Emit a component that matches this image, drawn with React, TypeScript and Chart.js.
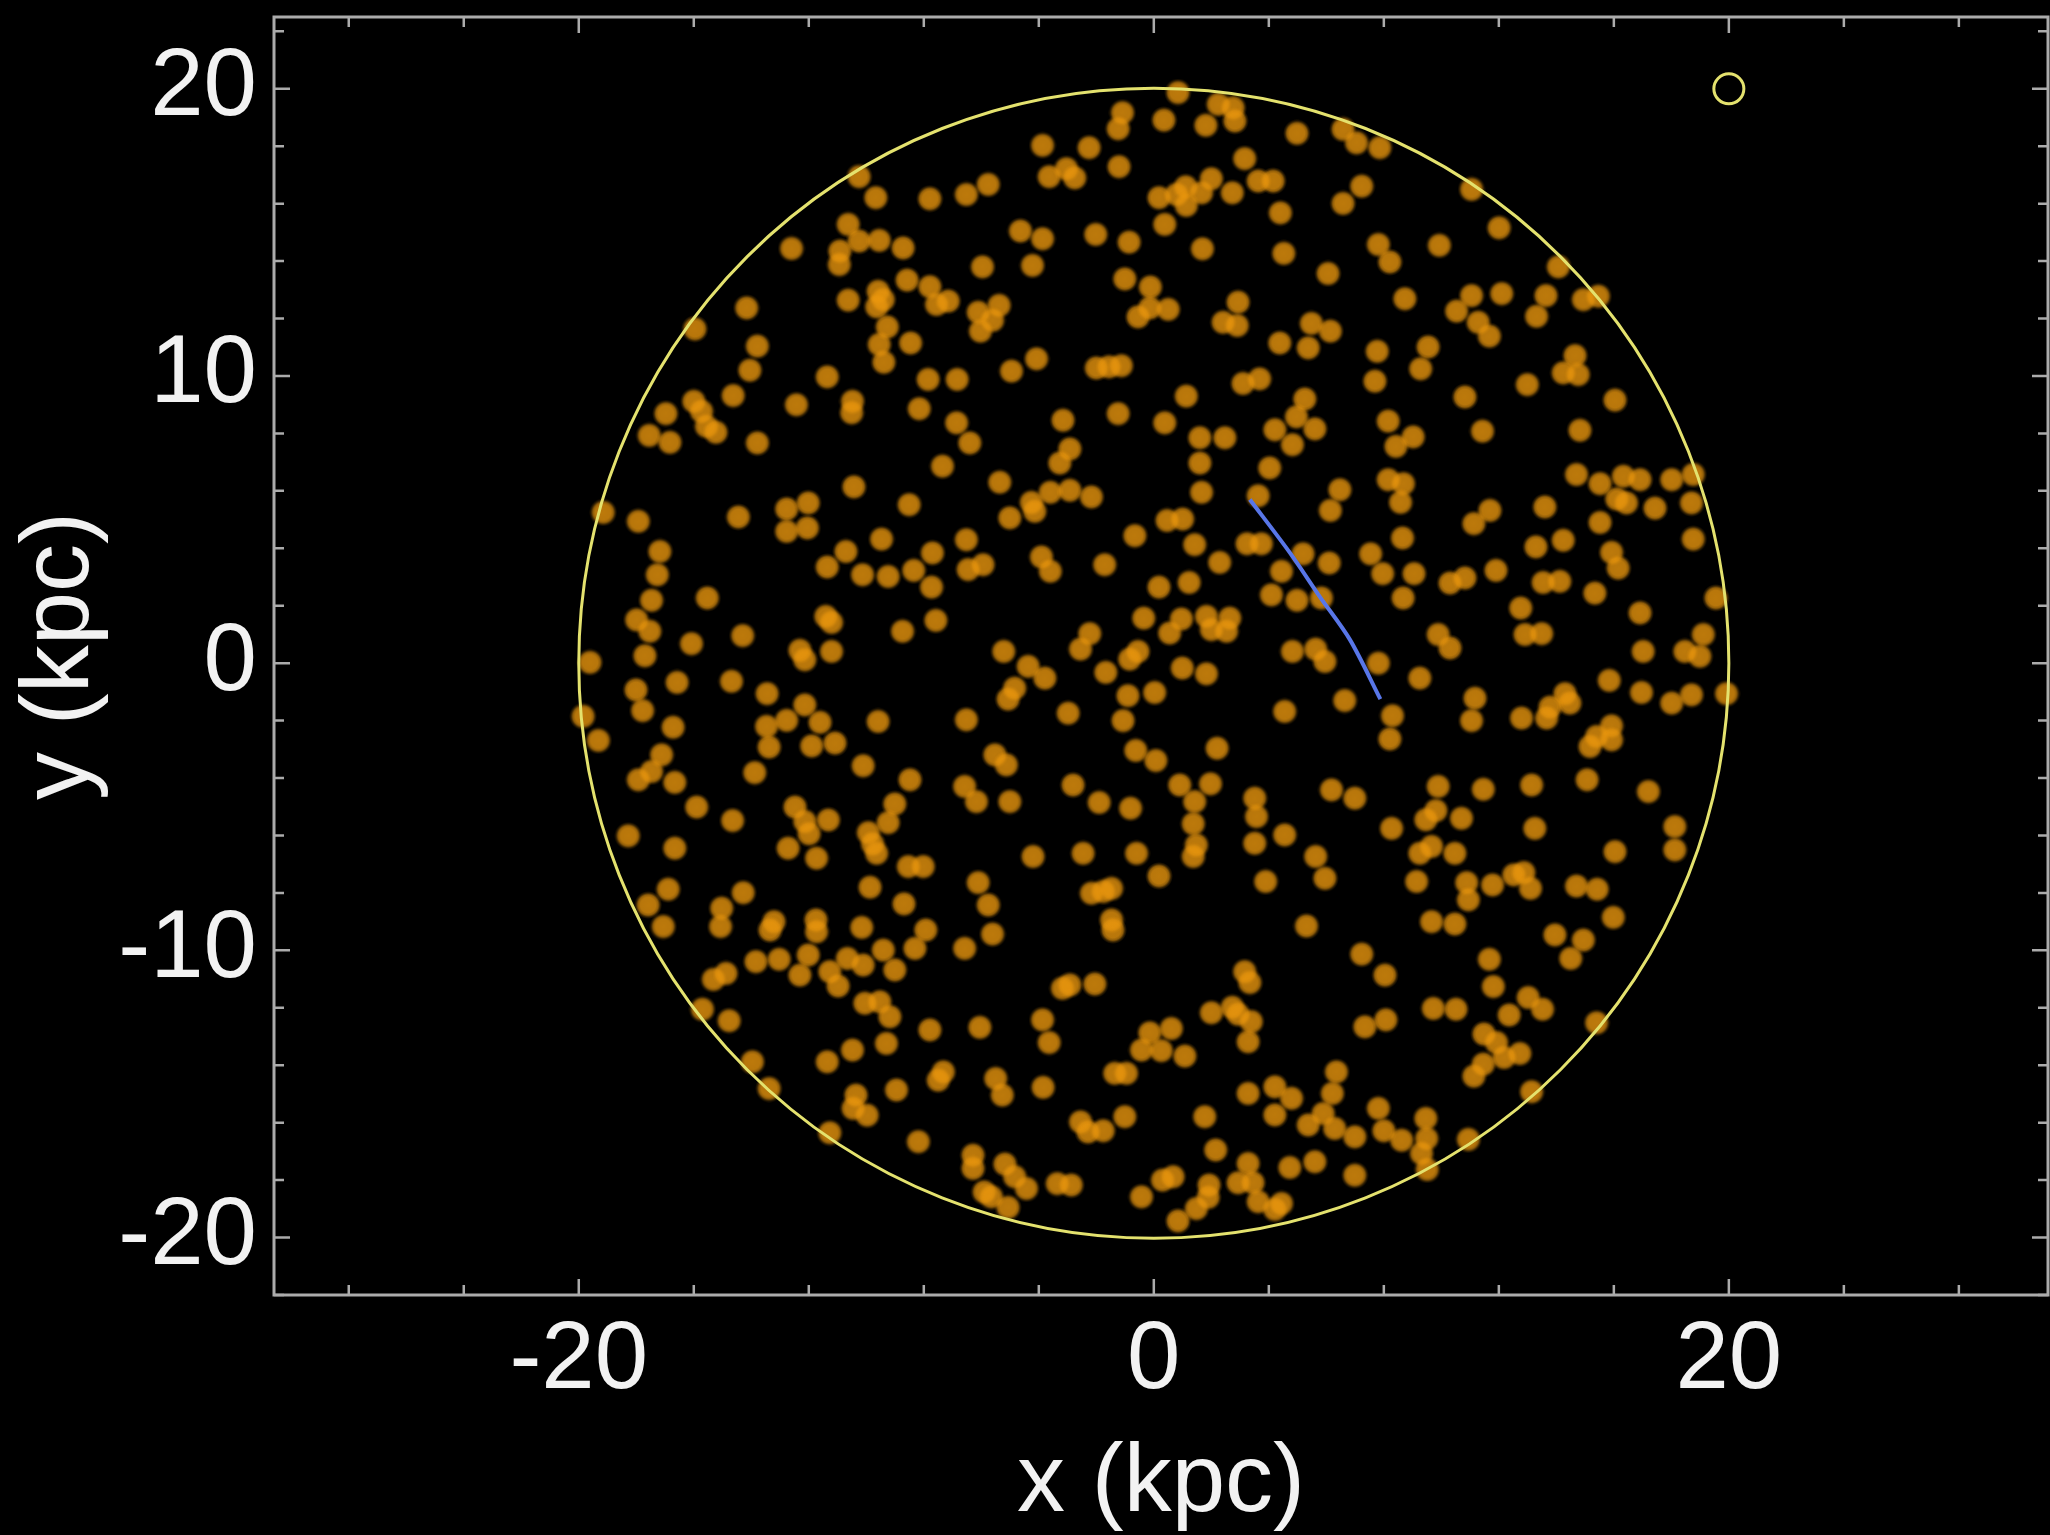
import React, { useEffect, useRef } from 'react';
import { Chart, registerables } from 'chart.js';

Chart.register(...registerables);

// ---- axis ranges & ticks (kpc) ----
const X_MIN = -30.6;
const X_MAX = 31.1;
const Y_MIN = -22.0;
const Y_MAX = 22.5;
const xMajorTicks = [-20, 0, 20];
const xMinorTicks = [-28, -24, -16, -12, -8, -4, 4, 8, 12, 16, 24, 28];
const yMajorTicks = [-20, -10, 0, 10, 20];
const yMinorTicks = [-22, -18, -16, -14, -12, -8, -6, -4, -2, 2, 4, 6, 8, 12, 14, 16, 18, 22];
const X_TITLE = 'x (kpc)';
const Y_TITLE = 'y (kpc)';

// ---- galactic disk outline & marker ----
const DISK_CENTER = { x: 0, y: 0 };
const DISK_RADIUS = 20;
const markerPoint = [{ x: 20, y: 20 }];

// ---- blue track ----
const trackX = [3.34, 4.73, 5.77, 6.82, 7.88];
const trackY = [5.7, 3.85, 2.32, 0.82, -1.25];

// ---- stars (x, y in kpc), read by region ----
const starsNW: [number, number][] = [
  [-10.25, 16.94], [-9.67, 16.21], [-7.79, 16.17], [-10.63, 15.28], [-10.25, 14.7], [-9.55, 14.72], [-8.72, 14.46],
  [-12.6, 14.44], [-10.92, 14.35], [-10.94, 13.88], [-8.58, 13.34], [-7.79, 13.11], [-7.56, 12.49], [-7.15, 12.61],
  [-9.59, 12.95], [-9.41, 12.66], [-9.64, 12.41], [-10.63, 12.64], [-14.16, 12.37], [-9.27, 11.71], [-15.96, 11.64],
  [-9.55, 11.1], [-8.46, 11.15], [-9.39, 10.48], [-13.79, 11.04], [-14.05, 10.2], [-11.36, 9.97], [-7.85, 9.88],
  [-6.84, 9.88], [-14.63, 9.32], [-12.43, 9.0], [-10.48, 9.12], [-10.51, 8.72], [-8.16, 8.86], [-16.0, 9.12],
  [-15.73, 8.77], [-16.97, 8.69], [-15.56, 8.25], [-15.23, 8.04], [-17.55, 7.93], [-16.83, 7.69], [-13.79, 7.67],
  [-6.86, 8.37], [-7.35, 6.86],
];

const starsN: [number, number][] = [
  [0.84, 19.87], [-1.09, 19.17], [-1.24, 18.61], [0.35, 18.91], [1.81, 18.73], [2.24, 19.46], [2.76, 19.34],
  [2.82, 18.88], [4.98, 18.45], [6.58, 18.59], [-3.87, 18.03], [-2.25, 17.95], [-1.21, 17.29], [-3.64, 16.94],
  [-3.04, 17.22], [-2.75, 16.9], [-6.52, 16.32], [-5.76, 16.67], [3.16, 17.57], [0.18, 16.21], [0.79, 16.32],
  [1.11, 16.59], [1.13, 15.94], [1.66, 16.38], [2.0, 16.87], [2.73, 16.38], [3.63, 16.79], [4.15, 16.79],
  [6.58, 16.01], [4.4, 15.68], [0.38, 15.28], [-4.64, 15.05], [-3.87, 14.78], [-2.02, 14.93], [-0.86, 14.66],
  [1.69, 14.43], [4.52, 14.27], [-5.96, 13.8], [-4.22, 13.85], [6.06, 13.57], [-1.01, 13.38], [-0.12, 13.1],
  [2.93, 12.57], [-5.38, 12.46], [-6.11, 12.22], [-5.61, 11.94], [-6.03, 11.56], [-0.55, 12.06], [-0.14, 12.37],
  [0.5, 12.32], [2.41, 11.87], [2.9, 11.76], [5.48, 11.83], [6.14, 11.56], [4.38, 11.15], [5.37, 10.98],
  [-2.0, 10.28], [-1.56, 10.32], [-1.13, 10.36], [-4.08, 10.6], [-4.95, 10.17], [3.1, 9.74], [3.68, 9.9],
  [1.13, 9.3], [5.25, 9.2], [4.96, 8.58], [5.6, 8.16], [4.21, 8.13], [4.82, 7.61], [-3.16, 8.46], [-1.24, 8.69],
  [0.38, 8.37], [1.6, 7.85], [2.47, 7.85], [-2.92, 7.46], [-3.27, 6.97], [-6.4, 7.67], [1.6, 6.97], [4.03, 6.8],
];

const starsNE: [number, number][] = [
  [7.05, 18.12], [7.86, 17.95], [7.23, 16.61], [11.05, 16.5], [12.01, 15.16], [7.81, 14.58], [8.21, 13.97],
  [9.93, 14.55], [14.07, 13.8], [8.73, 12.69], [11.05, 12.8], [10.53, 12.26], [11.28, 11.87], [11.67, 11.39],
  [12.1, 12.87], [13.64, 12.8], [13.31, 12.08], [14.94, 12.66], [15.46, 12.78], [7.77, 10.86], [9.54, 11.01],
  [9.28, 10.25], [7.69, 9.82], [14.65, 10.71], [14.24, 10.11], [14.76, 10.05], [12.99, 9.7], [10.82, 9.27],
  [16.04, 9.16], [8.15, 8.43], [9.02, 7.88], [8.42, 7.55], [11.43, 8.08], [14.82, 8.11],
];

const starsW: [number, number][] = [
  [-19.15, 5.25], [-17.93, 4.94], [-14.45, 5.09], [-12.77, 5.37], [-12.02, 5.58], [-12.77, 4.59], [-12.05, 4.71],
  [-10.43, 6.14], [-8.51, 5.52], [-9.47, 4.32], [-10.71, 3.89], [-11.36, 3.35], [-10.13, 3.08], [-9.24, 3.02],
  [-8.35, 3.23], [-7.7, 3.84], [-7.73, 2.65], [-17.18, 3.89], [-17.27, 3.08], [-17.47, 2.19], [-15.53, 2.27],
  [-17.99, 1.51], [-17.53, 1.11], [-17.7, 0.26], [-16.08, 0.68], [-14.3, 0.96], [-19.61, 0.03], [-11.41, 1.63],
  [-11.21, 1.42], [-12.31, 0.45], [-12.14, 0.12], [-11.21, 0.41], [-8.74, 1.11], [-7.58, 1.49], [-18.01, -0.93],
  [-16.58, -0.67], [-14.69, -0.63], [-13.45, -1.06], [-17.78, -1.65], [-19.85, -1.85], [-19.32, -2.69],
  [-16.72, -2.23], [-12.14, -1.45], [-12.77, -1.99], [-11.61, -2.06], [-13.47, -2.2], [-13.38, -2.92],
  [-11.9, -2.88], [-11.09, -2.78], [-9.59, -2.03], [-17.12, -3.19], [-17.47, -3.77], [-17.93, -4.06],
  [-16.66, -4.15], [-13.88, -3.81], [-10.11, -3.57], [-8.48, -4.06], [-15.9, -5.01], [-14.65, -5.48],
  [-12.48, -5.01], [-12.14, -5.51], [-11.99, -5.94], [-11.32, -5.46], [-9.01, -4.9], [-9.24, -5.55],
  [-9.93, -5.9], [-9.78, -6.29], [-9.64, -6.62], [-18.28, -6.01], [-16.66, -6.44], [-12.72, -6.44], [-11.73, -6.79],
];

const starsC: [number, number][] = [
  [-5.36, 6.3], [3.63, 5.83], [6.47, 6.04], [6.14, 5.32], [-4.26, 5.6], [-3.6, 5.95], [-2.92, 6.02], [-2.17, 5.79],
  [-4.14, 5.29], [-5.01, 5.06], [1.66, 5.95], [0.46, 4.97], [1.0, 5.02], [-0.66, 4.44], [1.42, 4.13], [-6.52, 4.3],
  [-6.46, 3.26], [-5.94, 3.43], [-3.91, 3.7], [-3.6, 3.2], [-1.71, 3.43], [0.18, 2.65], [1.23, 2.81], [2.29, 3.51],
  [3.24, 4.16], [3.74, 4.16], [5.19, 3.81], [6.1, 3.49], [4.44, 3.2], [4.09, 2.38], [4.98, 2.19], [5.83, 2.27],
  [-0.35, 1.57], [0.96, 1.54], [0.55, 1.05], [1.83, 1.63], [2.0, 1.17], [2.64, 1.57], [2.53, 1.11], [-2.23, 1.03],
  [-2.55, 0.49], [-0.55, 0.41], [-0.84, 0.14], [4.82, 0.41], [5.63, 0.49], [5.95, 0.06], [-5.22, 0.41],
  [-4.37, -0.11], [-3.79, -0.52], [-1.67, -0.32], [0.99, -0.17], [1.83, -0.37], [-5.07, -1.25], [-4.84, -0.87],
  [-0.9, -1.13], [0.03, -1.02], [-1.07, -2.0], [-2.98, -1.74], [-6.52, -1.97], [4.55, -1.68], [6.64, -1.3],
  [-5.53, -3.19], [-5.13, -3.54], [-0.63, -3.04], [0.07, -3.39], [2.2, -2.96], [-6.58, -4.29], [-6.17, -4.82],
  [-5.01, -4.82], [-2.81, -4.24], [-1.9, -4.85], [-0.81, -5.05], [0.9, -4.24], [1.97, -4.2], [1.42, -4.82],
  [1.37, -5.59], [1.48, -6.33], [3.51, -4.7], [3.57, -5.34], [3.51, -6.27], [4.55, -5.98], [6.18, -4.41],
  [5.63, -6.73], [-4.2, -6.73], [-2.46, -6.62], [-0.6, -6.62], [1.37, -6.73],
];

const starsE: [number, number][] = [
  [8.15, 6.39], [8.68, 6.25], [8.58, 5.6], [14.7, 6.57], [15.52, 6.25], [16.33, 6.51], [16.91, 6.39], [16.1, 5.72],
  [16.44, 5.58], [17.43, 5.4], [18.01, 6.39], [18.76, 6.57], [18.7, 5.58], [11.69, 5.32], [11.13, 4.86],
  [13.6, 5.44], [15.52, 4.9], [8.65, 4.36], [7.54, 3.81], [7.96, 3.12], [9.05, 3.12], [8.67, 2.27], [10.3, 2.79],
  [10.82, 2.97], [11.9, 3.23], [13.29, 4.05], [14.24, 4.28], [15.92, 3.86], [16.15, 3.31], [18.76, 4.32],
  [13.54, 2.81], [14.12, 2.85], [15.34, 2.44], [19.55, 2.27], [12.76, 1.92], [16.91, 1.75], [9.89, 1.0],
  [10.3, 0.53], [12.91, 1.0], [13.49, 1.03], [19.11, 1.0], [18.47, 0.41], [18.99, 0.24], [17.02, 0.41],
  [7.81, 0.0], [9.25, -0.52], [11.17, -1.22], [11.05, -2.0], [14.3, -1.06], [14.47, -1.39], [13.78, -1.53],
  [13.66, -1.91], [12.79, -1.91], [15.84, -0.6], [16.96, -1.02], [18.01, -1.39], [18.7, -1.1], [19.92, -1.06],
  [8.3, -1.83], [8.21, -2.64], [15.92, -2.18], [15.92, -2.67], [15.17, -2.9], [15.4, -2.55], [15.07, -4.06],
  [17.2, -4.47], [13.14, -4.24], [11.46, -4.39], [9.89, -4.29], [6.99, -4.7], [9.81, -5.13], [9.46, -5.45],
  [10.7, -5.4], [8.27, -5.75], [13.25, -5.75], [18.12, -5.69], [9.25, -6.62], [9.66, -6.38], [10.47, -6.62],
  [16.04, -6.56], [18.12, -6.5],
];

const starsSW: [number, number][] = [
  [-8.54, -7.08], [-8.02, -7.08], [-16.89, -7.87], [-17.59, -8.42], [-17.06, -9.17], [-14.28, -7.99],
  [-15.03, -8.53], [-15.07, -9.17], [-13.21, -9.0], [-13.35, -9.29], [-11.75, -8.94], [-11.73, -9.35],
  [-10.16, -9.2], [-9.87, -7.8], [-8.69, -8.38], [-7.93, -9.29], [-8.31, -9.93], [-9.41, -9.99], [-9.01, -10.68],
  [-13.84, -10.39], [-13.03, -10.31], [-12.02, -10.16], [-12.31, -10.86], [-11.27, -10.74], [-10.98, -11.24],
  [-10.66, -10.28], [-10.11, -10.51], [-15.32, -11.01], [-14.88, -10.8], [-15.7, -12.05], [-14.77, -12.45],
  [-10.05, -11.84], [-9.53, -11.79], [-9.18, -12.31], [-7.79, -12.77], [-10.48, -13.47], [-11.36, -13.88],
  [-9.3, -13.24], [-7.32, -14.23], [-7.5, -14.52], [-13.96, -13.88], [-13.38, -14.81], [-8.95, -14.86],
  [-10.36, -15.04], [-10.46, -15.5], [-9.97, -15.74], [-11.27, -16.35], [-8.19, -16.66],
];

const starsS: [number, number][] = [
  [-6.11, -7.64], [-5.76, -8.42], [-5.61, -9.43], [-6.58, -9.93], [-2.17, -8.01], [-1.76, -7.95], [-1.47, -7.84],
  [-1.47, -8.94], [-1.42, -9.29], [0.18, -7.41], [3.89, -7.6], [5.95, -7.49], [5.31, -9.15], [-3.18, -11.32],
  [-2.92, -11.2], [-2.05, -11.17], [3.16, -10.74], [3.34, -11.12], [-3.87, -12.42], [-3.64, -13.21],
  [-6.05, -12.68], [2.0, -12.17], [2.73, -11.98], [2.93, -12.22], [3.39, -12.48], [3.28, -13.18], [-0.14, -12.87],
  [0.61, -12.72], [-0.43, -13.47], [0.26, -13.49], [1.08, -13.68], [-1.36, -14.28], [-0.95, -14.28],
  [-5.5, -14.46], [-5.27, -15.04], [-3.85, -14.77], [3.28, -14.98], [4.21, -14.75], [4.79, -15.15],
  [4.21, -15.73], [6.35, -14.23], [6.21, -14.98], [1.77, -15.79], [5.89, -15.68], [5.37, -16.08], [6.29, -16.2],
  [-2.55, -15.97], [-2.29, -16.32], [-1.76, -16.28], [-1.01, -15.79], [-6.29, -17.13], [-6.29, -17.59],
  [-5.18, -17.44], [-4.84, -17.88], [-4.43, -18.29], [-5.9, -18.41], [-5.65, -18.58], [-5.07, -18.95],
  [-3.36, -18.12], [-2.87, -18.17], [-0.43, -18.58], [0.3, -18.0], [0.67, -17.88], [0.84, -19.42], [2.15, -16.95],
  [1.92, -18.17], [1.89, -18.6], [1.48, -18.99], [3.28, -17.42], [2.93, -18.09], [3.45, -18.09], [3.63, -18.75],
  [4.21, -19.02], [4.44, -18.81], [4.73, -17.56], [5.6, -17.36],
];

const starsSE: [number, number][] = [
  [9.14, -7.6], [10.88, -7.64], [10.94, -8.24], [11.78, -7.72], [12.52, -7.37], [12.87, -7.29], [13.1, -7.84],
  [14.7, -7.76], [15.42, -7.87], [15.98, -8.85], [9.66, -9.0], [10.47, -9.08], [13.95, -9.46], [14.94, -9.64],
  [14.5, -10.28], [7.23, -10.13], [8.04, -10.86], [11.67, -10.31], [11.81, -11.26], [13.02, -11.64],
  [13.52, -12.05], [9.72, -12.02], [10.51, -12.05], [12.36, -12.25], [8.07, -12.42], [7.34, -12.66],
  [15.4, -12.52], [11.48, -12.91], [11.92, -13.21], [12.73, -13.59], [12.18, -13.73], [11.46, -13.96],
  [11.13, -14.38], [13.14, -14.92], [7.81, -15.5], [8.0, -16.28], [8.62, -16.61], [9.46, -15.85], [9.49, -16.55],
  [9.31, -17.07], [9.51, -17.63], [6.99, -16.49], [6.99, -17.83], [10.94, -16.58],
];

const FONT = '"Liberation Sans", Arial, Helvetica, sans-serif';
const TEXT_COLOR = '#f2f2f2';
const FRAME_COLOR = '#ababab';
const STAR_RGB = '236,152,14';
const DISK_COLOR = 'rgb(228,226,110)';
const TRACK_COLOR = 'rgb(88,118,232)';

// soft-edged disc sprite used as the point style for stars
function makeStarSprite(): HTMLCanvasElement {
  const size = 28;
  const c = document.createElement('canvas');
  c.width = size;
  c.height = size;
  const g = c.getContext('2d')!;
  const r = size / 2;
  const grad = g.createRadialGradient(r, r, 0, r, r, r);
  grad.addColorStop(0, `rgba(${STAR_RGB},0.80)`);
  grad.addColorStop(0.55, `rgba(${STAR_RGB},0.78)`);
  grad.addColorStop(0.72, `rgba(${STAR_RGB},0.62)`);
  grad.addColorStop(0.86, `rgba(${STAR_RGB},0.22)`);
  grad.addColorStop(1, `rgba(${STAR_RGB},0)`);
  g.fillStyle = grad;
  g.beginPath();
  g.arc(r, r, r, 0, Math.PI * 2);
  g.fill();
  return c;
}

const backgroundPlugin = {
  id: 'blackBackground',
  beforeDraw(chart: any) {
    const ctx = chart.ctx;
    ctx.save();
    ctx.fillStyle = '#000';
    ctx.fillRect(0, 0, chart.width, chart.height);
    ctx.restore();
  },
};

const diskPlugin = {
  id: 'diskOutline',
  afterDatasetsDraw(chart: any) {
    const { ctx, scales } = chart;
    const cx = scales.x.getPixelForValue(DISK_CENTER.x);
    const cy = scales.y.getPixelForValue(DISK_CENTER.y);
    const r = scales.x.getPixelForValue(DISK_CENTER.x + DISK_RADIUS) - cx;
    ctx.save();
    ctx.strokeStyle = DISK_COLOR;
    ctx.lineWidth = 3;
    ctx.beginPath();
    ctx.arc(cx, cy, r, 0, Math.PI * 2);
    ctx.stroke();
    ctx.restore();
  },
};

const framePlugin = {
  id: 'frameTicks',
  afterDraw(chart: any) {
    const { ctx, chartArea: a, scales } = chart;
    const xs = scales.x;
    const ys = scales.y;
    ctx.save();
    ctx.strokeStyle = FRAME_COLOR;
    ctx.lineWidth = 3;
    ctx.strokeRect(a.left, a.top, a.right - a.left, a.bottom - a.top);
    ctx.lineWidth = 2.5;
    const xt = (v: number, len: number) => {
      const p = xs.getPixelForValue(v);
      ctx.beginPath();
      ctx.moveTo(p, a.bottom);
      ctx.lineTo(p, a.bottom - len);
      ctx.moveTo(p, a.top);
      ctx.lineTo(p, a.top + len);
      ctx.stroke();
    };
    const yt = (v: number, len: number) => {
      const p = ys.getPixelForValue(v);
      ctx.beginPath();
      ctx.moveTo(a.left, p);
      ctx.lineTo(a.left + len, p);
      ctx.moveTo(a.right, p);
      ctx.lineTo(a.right - len, p);
      ctx.stroke();
    };
    xMajorTicks.forEach((v) => xt(v, 16));
    xMinorTicks.forEach((v) => xt(v, 10));
    yMajorTicks.forEach((v) => yt(v, 16));
    yMinorTicks.forEach((v) => yt(v, 10));
    ctx.restore();
  },
};

const toPoints = (arr: [number, number][]) => arr.map(([x, y]) => ({ x, y }));

const zeroPad = (s: any) => {
  s.paddingLeft = 0;
  s.paddingRight = 0;
  s.paddingTop = 0;
  s.paddingBottom = 0;
};

export default function App() {
  const ref = useRef<HTMLCanvasElement | null>(null);

  useEffect(() => {
    document.body.style.margin = '0';
    document.body.style.background = '#000';
    const canvas = ref.current;
    if (!canvas) return;
    const stars = [
      ...toPoints(starsNW), ...toPoints(starsN), ...toPoints(starsNE),
      ...toPoints(starsW), ...toPoints(starsC), ...toPoints(starsE),
      ...toPoints(starsSW), ...toPoints(starsS), ...toPoints(starsSE),
    ];
    const track = trackX.map((x, i) => ({ x, y: trackY[i] }));
    const sprite = makeStarSprite();

    const chart = new Chart(canvas, {
      type: 'scatter',
      data: {
        datasets: [
          {
            type: 'line',
            label: 'track',
            data: track,
            borderColor: TRACK_COLOR,
            borderWidth: 4,
            pointRadius: 0,
            tension: 0.3,
            fill: false,
            order: 0,
          } as any,
          {
            label: 'marker',
            data: markerPoint,
            pointRadius: 15,
            pointBorderWidth: 3,
            pointBackgroundColor: 'rgba(0,0,0,0)',
            pointBorderColor: DISK_COLOR,
            order: 1,
          },
          {
            label: 'stars',
            data: stars,
            pointStyle: sprite as any,
            pointRadius: 14,
            pointBorderWidth: 0,
            pointBackgroundColor: `rgba(${STAR_RGB},0.78)`,
            order: 5,
          },
        ],
      },
      options: {
        responsive: false,
        animation: false,
        devicePixelRatio: 1,
        layout: { autoPadding: false, padding: { top: 17, right: 2, left: 0, bottom: 0 } },
        plugins: { legend: { display: false }, tooltip: { enabled: false } },
        scales: {
          x: {
            type: 'linear',
            min: X_MIN,
            max: X_MAX,
            afterFit: (s: any) => { s.height = 240; zeroPad(s); },
            afterBuildTicks: (s: any) => { s.ticks = xMajorTicks.map((v) => ({ value: v })); },
            grid: { display: false, drawTicks: false },
            border: { display: false },
            ticks: {
              color: TEXT_COLOR,
              font: { family: FONT, size: 96 },
              padding: 9,
              maxRotation: 0,
              autoSkip: false,
            },
            title: {
              display: true,
              text: X_TITLE,
              color: TEXT_COLOR,
              font: { family: FONT, size: 96, lineHeight: 1 },
              padding: { top: 0, bottom: 2 },
            },
          },
          y: {
            type: 'linear',
            min: Y_MIN,
            max: Y_MAX,
            afterFit: (s: any) => { s.width = 274; zeroPad(s); },
            afterBuildTicks: (s: any) => { s.ticks = yMajorTicks.map((v) => ({ value: v })); },
            grid: { display: false, drawTicks: false },
            border: { display: false },
            ticks: {
              color: TEXT_COLOR,
              font: { family: FONT, size: 96 },
              padding: 17,
              autoSkip: false,
            },
            title: {
              display: true,
              text: Y_TITLE,
              color: TEXT_COLOR,
              font: { family: FONT, size: 96, lineHeight: 1 },
              padding: { top: 14, bottom: 0 },
            },
          },
        },
      },
      plugins: [backgroundPlugin, diskPlugin, framePlugin],
    });
    return () => chart.destroy();
  }, []);

  return (
    <canvas
      ref={ref}
      width={2050}
      height={1535}
      style={{ position: 'fixed', left: 0, top: 0, width: 2050, height: 1535, display: 'block' }}
    />
  );
}
